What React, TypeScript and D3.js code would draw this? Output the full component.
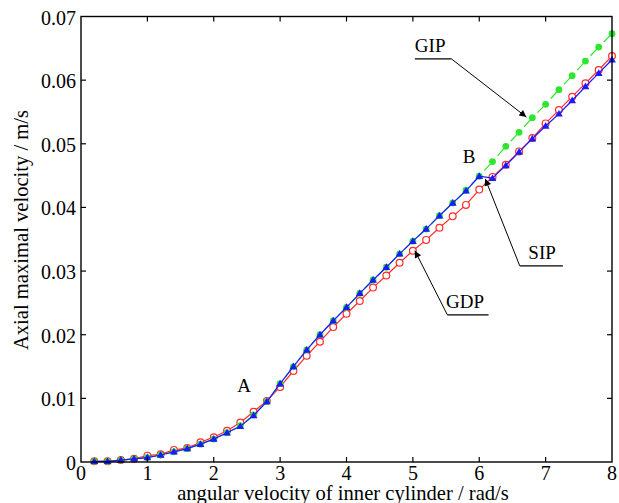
import React from "react"
import * as d3 from "d3"

// angular velocity of inner cylinder (rad/s)
const omega = [
  0.2, 0.4, 0.6, 0.8, 1.0, 1.2, 1.4, 1.6, 1.8, 2.0,
  2.2, 2.4, 2.6, 2.8, 3.0, 3.2, 3.4, 3.6, 3.8, 4.0,
  4.2, 4.4, 4.6, 4.8, 5.0, 5.2, 5.4, 5.6, 5.8, 6.0,
  6.2, 6.4, 6.6, 6.8, 7.0, 7.2, 7.4, 7.6, 7.8, 8.0,
]

// axial maximal velocity (m/s)
const gip = [
  0.0001, 0.0001, 0.0003, 0.0005, 0.0007, 0.0011, 0.0016, 0.0021, 0.0028, 0.0036,
  0.0046, 0.0057, 0.0074, 0.0095, 0.0123, 0.015, 0.0176, 0.02, 0.0222, 0.0243,
  0.0265, 0.0286, 0.0306, 0.0327, 0.0347, 0.0366, 0.0387, 0.0407, 0.0427, 0.0449,
  0.0472, 0.0496, 0.0518, 0.0541, 0.0562, 0.0585, 0.0607, 0.063, 0.0652, 0.0673,
]
const sip = [
  0.0001, 0.0001, 0.0003, 0.0005, 0.0007, 0.0011, 0.0016, 0.0021, 0.0028, 0.0036,
  0.0046, 0.0056, 0.0073, 0.0095, 0.0123, 0.015, 0.0176, 0.02, 0.0222, 0.0243,
  0.0265, 0.0286, 0.0306, 0.0327, 0.0347, 0.0366, 0.0387, 0.0407, 0.0426, 0.0449,
  0.0446, 0.0466, 0.0487, 0.0508, 0.0528, 0.0547, 0.0568, 0.059, 0.0611, 0.0632,
]
const gdp = [
  0.0001, 0.0001, 0.0003, 0.0005, 0.001, 0.0012, 0.0019, 0.0022, 0.0031, 0.0039,
  0.0049, 0.0062, 0.0079, 0.0096, 0.0118, 0.0143, 0.0167, 0.0189, 0.0212, 0.0233,
  0.0253, 0.0274, 0.0293, 0.0313, 0.0332, 0.0349, 0.0368, 0.0386, 0.0404, 0.0428,
  0.0448, 0.0467, 0.0488, 0.0509, 0.0532, 0.0553, 0.0574, 0.0595, 0.0616, 0.0638,
]

const xTicks = [0, 1, 2, 3, 4, 5, 6, 7, 8]
const yTicks = [0, 0.01, 0.02, 0.03, 0.04, 0.05, 0.06, 0.07]

// annotations in data space: label, text pos, underline [x0,x1,y], arrow tip
const notes = [
  { label: "GIP", tx: 5.03, ty: 0.0645, ux0: 5.03, ux1: 5.58, uy: 0.06335, side: "right", ax: 6.71, ay: 0.0542 },
  { label: "SIP", tx: 6.74, ty: 0.03185, ux0: 6.61, ux1: 7.26, uy: 0.03083, side: "left", ax: 6.09, ay: 0.0445 },
  { label: "GDP", tx: 5.5, ty: 0.02423, ux0: 5.52, ux1: 6.14, uy: 0.02312, side: "left", ax: 5.03, ay: 0.0332 },
]
const letters = [
  { label: "A", x: 2.355, y: 0.01106 },
  { label: "B", x: 5.75, y: 0.047 },
]

const W = 619
const H = 503
const font = "'Liberation Serif', 'Times New Roman', serif"

export default function App() {
  const x = d3.scaleLinear().domain([0, 8]).range([81, 612])
  const y = d3.scaleLinear().domain([0, 0.07]).range([462, 16.5])
  const [x0, x1] = x.range()
  const [y0, y1] = y.range()

  const line = d3
    .line<number>()
    .x((_, i) => x(omega[i]))
    .y((d) => y(d))

  const pts = (arr: number[]) => arr.map((v, i) => [x(omega[i]), y(v)] as [number, number])

  const greenPts = pts(gip)
  // green is dash-dot in the source: short gap after each marker
  const greenSegs = greenPts.slice(0, -1).map((p, i) => {
    const q = greenPts[i + 1]
    const s = 0.38
    return [p[0] + (q[0] - p[0]) * s, p[1] + (q[1] - p[1]) * s, q[0], q[1]]
  })

  const tri = d3.symbol().type(d3.symbolTriangle).size(26)()

  return (
    <svg width={W} height={H} style={{ position: "absolute", left: 0, top: 0, background: "#fff" }} fontFamily={font}>
      <defs>
        <marker id="ah" viewBox="0 0 10 10" refX="10" refY="5" markerWidth="11" markerHeight="7" markerUnits="userSpaceOnUse" orient="auto">
          <path d="M0,0 L10,5 L0,10 z" fill="#000" />
        </marker>
      </defs>

      {/* GDP red */}
      <path d={line(gdp) || ""} fill="none" stroke="#ff2a2a" strokeWidth={1.2} />
      {pts(gdp).map((p, i) => (
        <circle key={"r" + i} cx={p[0]} cy={p[1]} r={3.4} fill="#fff" stroke="#ff2a2a" strokeWidth={1.2} />
      ))}

      {/* GIP green */}
      {greenSegs.map((s, i) => (
        <line key={"gs" + i} x1={s[0]} y1={s[1]} x2={s[2]} y2={s[3]} stroke="#2ee62e" strokeWidth={1.2} />
      ))}
      {greenPts.map((p, i) => (
        <circle key={"g" + i} cx={p[0]} cy={p[1]} r={3.4} fill="#2ee62e" />
      ))}

      {/* SIP blue */}
      <path d={line(sip) || ""} fill="none" stroke="#1a1aff" strokeWidth={1.2} />
      {pts(sip).map((p, i) => (
        <path key={"b" + i} d={tri || ""} transform={`translate(${p[0]},${p[1] + 0.5})`} fill="#1a1aff" />
      ))}

      {/* frame */}
      <rect x={x0} y={y1} width={x1 - x0} height={y0 - y1} fill="none" stroke="#000" strokeWidth={1.4} />

      {/* x ticks */}
      {xTicks.map((t) => (
        <g key={"xt" + t}>
          {t > 0 && t < 8 && (
            <>
              <line x1={x(t)} x2={x(t)} y1={y0} y2={y0 - 5} stroke="#000" strokeWidth={1.2} />
              <line x1={x(t)} x2={x(t)} y1={y1} y2={y1 + 5} stroke="#000" strokeWidth={1.2} />
            </>
          )}
          <text x={x(t)} y={480} textAnchor="middle" fontSize={20}>
            {t}
          </text>
        </g>
      ))}

      {/* y ticks */}
      {yTicks.map((t) => (
        <g key={"yt" + t}>
          {t > 0 && t < 0.07 && (
            <>
              <line x1={x0} x2={x0 + 5} y1={y(t)} y2={y(t)} stroke="#000" strokeWidth={1.2} />
              <line x1={x1} x2={x1 - 5} y1={y(t)} y2={y(t)} stroke="#000" strokeWidth={1.2} />
            </>
          )}
          <text x={76} y={y(t) + 8} textAnchor="end" fontSize={20}>
            {t === 0 ? "0" : t.toFixed(2)}
          </text>
        </g>
      ))}

      {/* axis titles */}
      <text x={343} y={500} textAnchor="middle" fontSize={20.6}>
        angular velocity of inner cylinder / rad/s
      </text>
      <text transform="translate(28,230) rotate(-90)" textAnchor="middle" fontSize={20.6}>
        Axial maximal velocity / m/s
      </text>

      {/* annotations */}
      {notes.map((n) => {
        const sx = n.side === "right" ? x(n.ux1) : x(n.ux0)
        return (
          <g key={n.label}>
            <text x={x(n.tx)} y={y(n.ty)} fontSize={19}>
              {n.label}
            </text>
            <line x1={x(n.ux0)} x2={x(n.ux1)} y1={y(n.uy)} y2={y(n.uy)} stroke="#000" strokeWidth={1.2} />
            <line x1={sx} y1={y(n.uy)} x2={x(n.ax)} y2={y(n.ay)} stroke="#000" strokeWidth={1} markerEnd="url(#ah)" />
          </g>
        )
      })}
      {letters.map((l) => (
        <text key={l.label} x={x(l.x)} y={y(l.y)} fontSize={19}>
          {l.label}
        </text>
      ))}
    </svg>
  )
}
